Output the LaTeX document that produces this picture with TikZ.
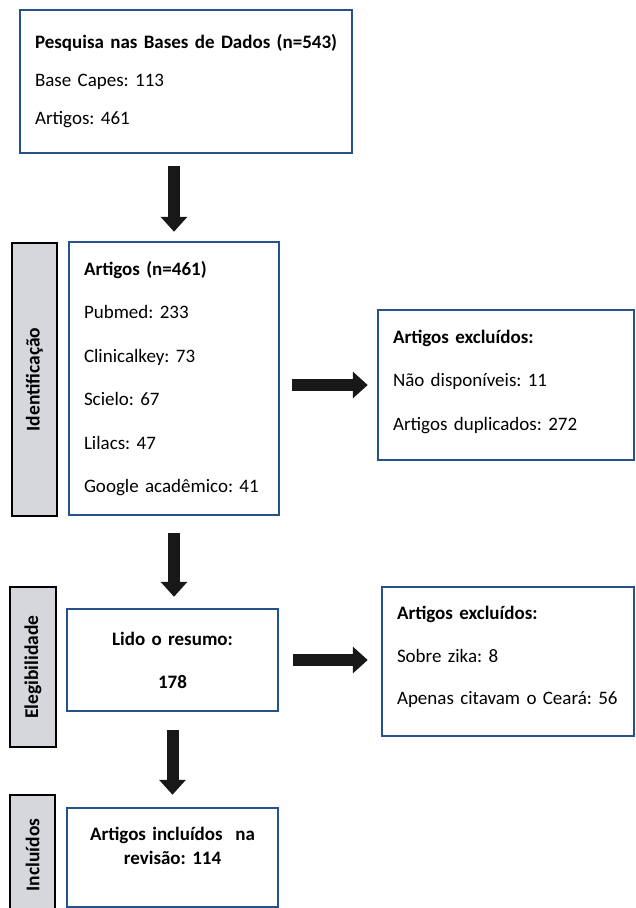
\documentclass[tikz,border=0pt]{standalone}
\usepackage{fontspec}
\setmainfont{Carlito}
\frenchspacing
\usetikzlibrary{arrows.meta}
\definecolor{boxblue}{RGB}{38,82,140}
\definecolor{phasegray}{RGB}{214,215,220}
\definecolor{arrowblack}{RGB}{24,24,24}

\begin{document}
\begin{tikzpicture}[x=1pt,y=-1pt,
  stagebox/.style={draw=boxblue, line width=2.5pt, fill=white, inner xsep=15pt, inner ysep=0pt, align=left, font=\fontsize{19}{43.5}\selectfont},
  phase/.style={draw=black, line width=2.8pt, fill=phasegray, rotate=90, inner sep=0pt, font=\bfseries\fontsize{19.5}{23}\selectfont},
  bigarrow/.style={draw=arrowblack, line width=12pt, -{Triangle[width=26pt,length=15pt]}}]
  \useasboundingbox (0,0) rectangle (636,908);
  \clip (0,0) rectangle (636,908);

  % search
  \node[stagebox, minimum width=332pt, minimum height=143pt, text width=302pt, font=\fontsize{19}{38}\selectfont] (busca) at (186,81.5)
    {\makebox[0pt][l]{\textbf{Pesquisa nas Bases de Dados (n=543)}}\\Base Capes: 113\\Artigos: 461};

  % identification
  \node[phase, minimum width=273pt, minimum height=45pt] (lblIdent) at (34.5,379.5) {Identificação};
  \node[stagebox, minimum width=210pt, minimum height=273pt, text width=180pt] (ident) at (174,378.5)
    {\textbf{Artigos (n=461)}\\Pubmed: 233\\Clinicalkey: 73\\Scielo: 67\\Lilacs: 47\\Google acadêmico: 41};
  \node[stagebox, minimum width=256pt, minimum height=150pt, text width=226pt] (excl1) at (506,385)
    {\textbf{Artigos excluídos:}\\Não disponíveis: 11\\Artigos duplicados: 272\rule[-10pt]{0pt}{10pt}};

  % eligibility
  \node[phase, minimum width=160pt, minimum height=46pt] (lblEleg) at (33,667) {Elegibilidade};
  \node[stagebox, minimum width=211pt, minimum height=102pt, text width=181pt, align=center, font=\bfseries\fontsize{19}{43}\selectfont] (eleg) at (172.5,660)
    {Lido o resumo:\\178};
  \node[stagebox, minimum width=252pt, minimum height=149pt, text width=222pt, font=\fontsize{19}{42.5}\selectfont] (excl2) at (508,661.5)
    {\textbf{Artigos excluídos:}\\Sobre zika: 8\\Apenas citavam o Ceará: 56\rule[-12pt]{0pt}{12pt}};

  % included
  \node[phase, minimum width=120pt, minimum height=45pt] (lblIncl) at (32.5,855) {Incluídos};
  \node[stagebox, minimum width=211pt, minimum height=99pt, text width=181pt, align=center, font=\bfseries\fontsize{19}{24}\selectfont] (incl) at (172.5,857.5)
    {Artigos incluídos\ \ na\\revisão: 114\\~};

  \draw[bigarrow, shorten <=12pt, shorten >=9pt] (busca.south -| ident.north) -- (ident.north);
  \draw[bigarrow, shorten <=17pt, shorten >=11pt] (ident.south) -- (ident.south |- eleg.north);
  \draw[bigarrow, shorten <=18pt, shorten >=12pt] (eleg.south) -- (incl.north);
  \draw[bigarrow, shorten <=12pt, shorten >=9pt] (ident.east |- excl1.west) -- (excl1.west);
  \draw[bigarrow, shorten <=14pt, shorten >=13pt] (eleg.east) -- (eleg.east -| excl2.west);
\end{tikzpicture}
\end{document}
